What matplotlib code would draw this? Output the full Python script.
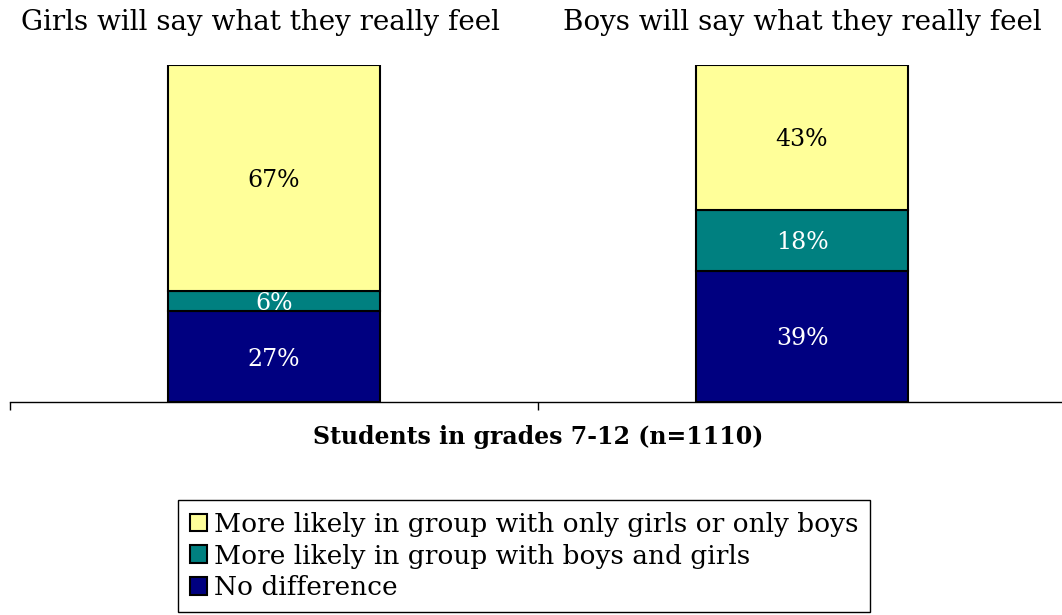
import matplotlib.pyplot as plt
from matplotlib.patches import Patch
from matplotlib.transforms import blended_transform_factory

# survey results, students in grades 7-12
groups = ['Girls will say what they really feel', 'Boys will say what they really feel']
series = ['No difference',
          'More likely in group with boys and girls',
          'More likely in group with only girls or only boys']
no_diff = [27, 39]
mixed = [6, 18]
single_sex = [67, 43]
xlabel = 'Students in grades 7-12 (n=1110)'

colors = ['#000080', '#008080', '#FFFF99']
label_colors = ['white', 'white', 'black']

plt.rcParams['font.family'] = ['DejaVu Serif']

fig = plt.figure(figsize=(10.62, 6.15), dpi=100)
ax = fig.add_axes([10 / 1062, 213 / 615, 1056 / 1062, 337 / 615])

x = list(range(len(groups)))
bottom = [0, 0]
for vals, name, c, lc in zip([no_diff, mixed, single_sex], series, colors, label_colors):
    bars = ax.bar(x, vals, width=0.4, bottom=bottom, color=c, edgecolor='black',
                  linewidth=1.5, label=name)
    for b, v, b0 in zip(bars, vals, bottom):
        ax.text(b.get_x() + b.get_width() / 2, b0 + v / 2, f'{v}%', ha='center',
                va='center_baseline', color=lc, fontsize=17)
    bottom = [b0 + v for b0, v in zip(bottom, vals)]

ax.set_xlim(-0.5, 1.5)
ax.set_ylim(0, 100)
ax.set_xticks([-0.5, 0.5, 1.5])
ax.set_xticklabels([])
ax.tick_params(axis='x', length=6, width=1, direction='out')
ax.set_yticks([])
for s in ['top', 'left', 'right']:
    ax.spines[s].set_visible(False)
ax.spines['bottom'].set_linewidth(1)

# group titles above each bar
tr = blended_transform_factory(ax.transData, fig.transFigure)
for xi, g, dx in zip(x, groups, [-0.025, 0]):
    ax.text(xi + dx, 1 - 22 / 615, g, transform=tr, ha='center', va='center',
            fontsize=20)

ax.set_xlabel(xlabel, fontsize=17, fontweight='bold', labelpad=7)

handles = [Patch(facecolor=c, edgecolor='black', linewidth=1.5, label=n)
           for c, n in zip(colors[::-1], series[::-1])]
fig.legend(handles=handles, loc='lower center', bbox_to_anchor=(524 / 1062, 3 / 615),
           frameon=True, fancybox=False, edgecolor='black', framealpha=1,
           prop={'size': 19}, handlelength=0.65, handleheight=0.65,
           handletextpad=0.25, labelspacing=0.25, borderpad=0.45, borderaxespad=0)

fig.savefig('out.png', dpi=100)
